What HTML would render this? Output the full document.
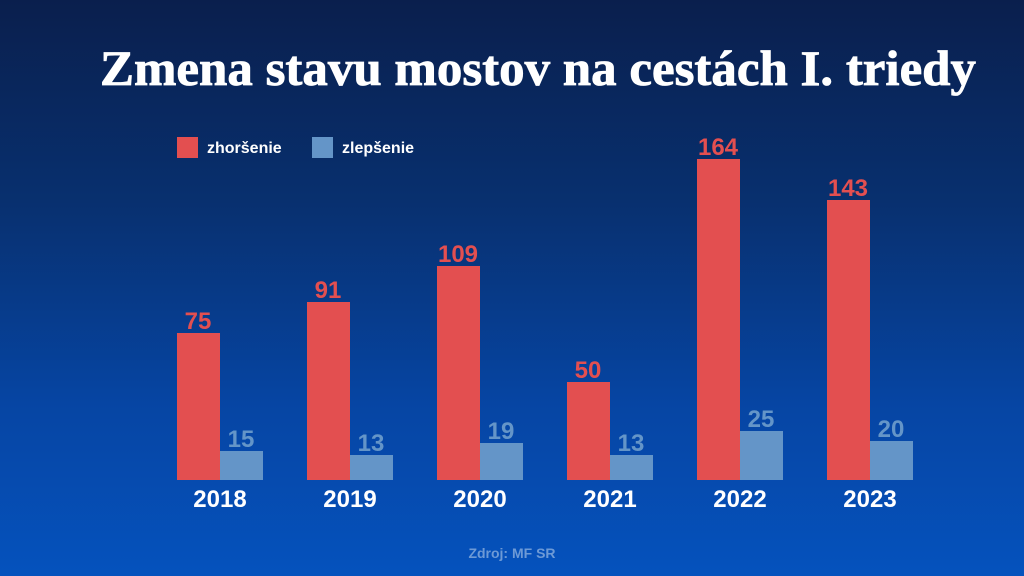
<!DOCTYPE html>
<html><head><meta charset="utf-8"><style>
html,body{margin:0;padding:0}
body{width:1024px;height:576px;overflow:hidden;background:linear-gradient(to bottom,#0a1f4d 0%,#08306f 35%,#0645a3 70%,#0552bd 100%)}
svg{display:block}
</style></head><body>
<svg width="1024" height="576" xmlns="http://www.w3.org/2000/svg" font-family="Liberation Sans, sans-serif">
<text x="100" y="85" font-family="Liberation Serif, serif" font-weight="bold" font-size="50" fill="#fff" stroke="#fff" stroke-width="0.8" textLength="876" lengthAdjust="spacingAndGlyphs">Zmena stavu mostov na cestách I. triedy</text>
<rect x="177" y="137" width="21" height="21" fill="#e34f50"/>
<text x="207" y="153" font-size="16" font-weight="bold" fill="#fff">zhoršenie</text>
<rect x="312" y="137" width="21" height="21" fill="#6495c8"/>
<text x="342" y="153" font-size="16" font-weight="bold" fill="#fff">zlepšenie</text>
<g font-weight="bold" text-anchor="middle">
<rect x="177" y="333" width="43" height="147" fill="#e34f50"/><text x="198" y="329" font-size="24" fill="#e34f50">75</text>
<rect x="220" y="451" width="43" height="29" fill="#6495c8"/><text x="241" y="447" font-size="24" fill="#6495c8">15</text>
<text x="220" y="507" font-size="24" fill="#fff">2018</text>
<rect x="307" y="302" width="43" height="178" fill="#e34f50"/><text x="328" y="298" font-size="24" fill="#e34f50">91</text>
<rect x="350" y="455" width="43" height="25" fill="#6495c8"/><text x="371" y="451" font-size="24" fill="#6495c8">13</text>
<text x="350" y="507" font-size="24" fill="#fff">2019</text>
<rect x="437" y="266" width="43" height="214" fill="#e34f50"/><text x="458" y="262" font-size="24" fill="#e34f50">109</text>
<rect x="480" y="443" width="43" height="37" fill="#6495c8"/><text x="501" y="439" font-size="24" fill="#6495c8">19</text>
<text x="480" y="507" font-size="24" fill="#fff">2020</text>
<rect x="567" y="382" width="43" height="98" fill="#e34f50"/><text x="588" y="378" font-size="24" fill="#e34f50">50</text>
<rect x="610" y="455" width="43" height="25" fill="#6495c8"/><text x="631" y="451" font-size="24" fill="#6495c8">13</text>
<text x="610" y="507" font-size="24" fill="#fff">2021</text>
<rect x="697" y="159" width="43" height="321" fill="#e34f50"/><text x="718" y="155" font-size="24" fill="#e34f50">164</text>
<rect x="740" y="431" width="43" height="49" fill="#6495c8"/><text x="761" y="427" font-size="24" fill="#6495c8">25</text>
<text x="740" y="507" font-size="24" fill="#fff">2022</text>
<rect x="827" y="200" width="43" height="280" fill="#e34f50"/><text x="848" y="196" font-size="24" fill="#e34f50">143</text>
<rect x="870" y="441" width="43" height="39" fill="#6495c8"/><text x="891" y="437" font-size="24" fill="#6495c8">20</text>
<text x="870" y="507" font-size="24" fill="#fff">2023</text>
<text x="512" y="558" font-size="14" fill="#6d9ad6">Zdroj: MF SR</text>
</g>
</svg>
</body></html>
